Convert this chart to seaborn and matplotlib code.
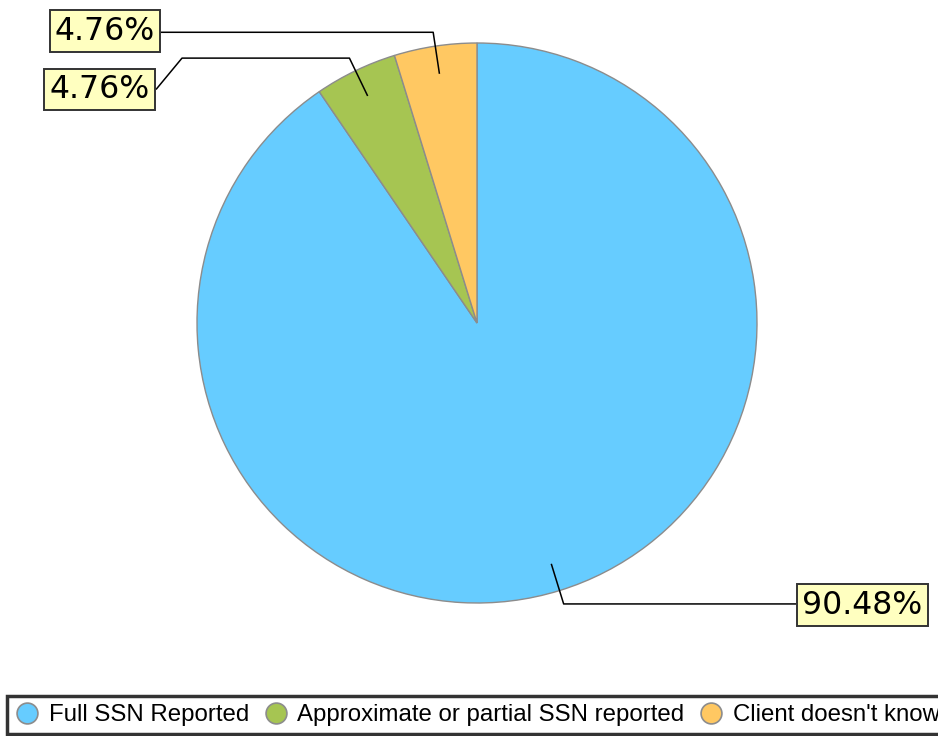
import numpy as np
import matplotlib
matplotlib.use("Agg")
import matplotlib.pyplot as plt
from matplotlib.lines import Line2D
import seaborn as sns

# data
categories = ["Full SSN Reported", "Approximate or partial SSN reported", "Client doesn't know"]
counts = [19, 1, 1]
colors = ["#66CCFF", "#A6C552", "#FFC862"]

sns.set_theme(style="white")
plt.rcParams["font.family"] = ["DejaVu Sans"]
plt.rcParams["text.color"] = "black"

W, H = 938, 736
fig = plt.figure(figsize=(W / 100, H / 100), dpi=100)
ax = fig.add_axes([0, 0, 1, 1])

# pie geometry in pixel-like data units (y up)
center = (477, H - 323)
radius = 280

wedges, _ = ax.pie(
    counts,
    colors=colors,
    startangle=90,
    counterclock=False,
    center=center,
    radius=radius,
    wedgeprops=dict(edgecolor="#8C8C8C", linewidth=1),
)
ax.set_xlim(0, W)
ax.set_ylim(0, H)
ax.set_aspect("auto")
ax.axis("off")

total = sum(counts)
pct_labels = [f"{c / total * 100:.2f}%" for c in counts]

# label layout: (text center x, text center y, box edge x, knee x)
label_layout = [
    (862.5, H - 605, 796, None),
    (99.5, H - 89.5, 156, 182),
    (105, H - 31, 161, None),
]

box_style = dict(boxstyle="square,pad=0.17", facecolor="#FFFFC0",
                 edgecolor="#333333", linewidth=1.4)

for w, lab, (tx, ty, edge_x, knee_x) in zip(wedges, pct_labels, label_layout):
    mid = np.deg2rad((w.theta1 + w.theta2) / 2)
    cx, cy = w.center
    r = w.r
    ax_pt = (cx + 0.9 * r * np.cos(mid), cy + 0.9 * r * np.sin(mid))
    bend = (cx + 1.05 * r * np.cos(mid), cy + 1.05 * r * np.sin(mid))
    xs = [ax_pt[0], bend[0]]
    ys = [ax_pt[1], bend[1]]
    if knee_x is not None:
        xs += [knee_x, edge_x]
        ys += [bend[1], ty]
    else:
        xs += [edge_x]
        ys += [bend[1]]
    ax.plot(xs, ys, color="black", linewidth=1.1, solid_capstyle="butt")
    ax.text(tx, ty, lab, ha="center", va="center", fontsize=22.7,
            color="black", bbox=box_style)

handles = [
    Line2D([], [], marker="o", linestyle="", markersize=15,
           markerfacecolor=c, markeredgecolor="#8C8C8C", markeredgewidth=1.2)
    for c in colors
]
leg = fig.legend(
    handles, categories,
    loc="lower left",
    bbox_to_anchor=(7 / W, 2 / H),
    ncol=3,
    frameon=True,
    fancybox=False,
    prop={"family": "Liberation Sans", "size": 17.3},
    labelcolor="black",
    handlelength=1.0,
    handletextpad=0.4,
    columnspacing=0.62,
    borderpad=0.33,
    borderaxespad=0,
)
leg.get_frame().set_edgecolor("black")
leg.get_frame().set_linewidth(2.5)

fig.savefig("out.png", dpi=100)
